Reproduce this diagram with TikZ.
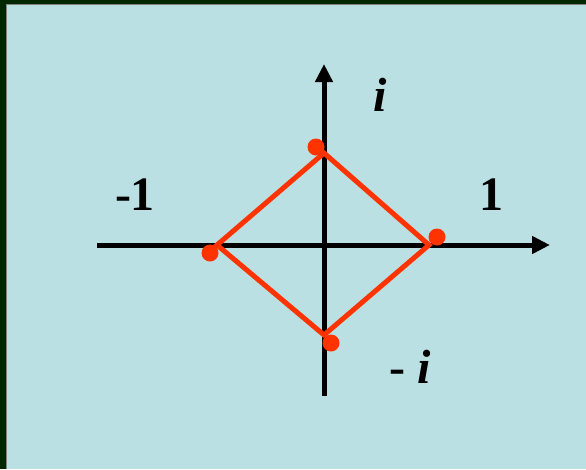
\documentclass[tikz,border=0pt]{standalone}
\usepackage{fontspec}
\setmainfont{Liberation Serif}
\usetikzlibrary{arrows.meta}
\definecolor{slidebg}{RGB}{187,224,227}
\definecolor{slideframe}{RGB}{0,38,0}
\definecolor{diamondred}{RGB}{255,51,0}

\begin{document}
\begin{tikzpicture}[x=1pt, y=-1pt]
        \tikzstyle{axisline} = [draw, line width=5pt, -{Triangle[length=18pt,width=17pt]}]
        \tikzstyle{side} = [draw, diamondred, line width=5pt, line join=miter]
        \tikzstyle{point} = [circle, fill=diamondred, inner sep=0pt, minimum size=17pt]
        \tikzstyle{axislabel} = [font=\fontsize{48}{48}\selectfont\bfseries, inner sep=0pt, anchor=base]

        % slide frame and background
        \fill[slideframe] (0,0) rectangle (586,469);
        \fill[gray] (6,4) rectangle (586,469);
        \fill[slidebg] (7,5) rectangle (586,469);
        \useasboundingbox (0,0) rectangle (586,469);

        \coordinate (west) at (97,245);
        \coordinate (east) at (550,245);
        \coordinate (south) at (324,396);
        \coordinate (north) at (324,64);
        \path [axisline] (west) -- (east);
        \path [axisline] (south) -- (north);

        \coordinate (top) at (324,153);
        \coordinate (right) at (429,245);
        \coordinate (bottom) at (324,335);
        \coordinate (left) at (217,245);
        \path [side] (top) -- (right) -- (bottom) -- (left) -- cycle;

        \node [point] (ptop) at (316,147) {};
        \node [point] (pright) at (437,237) {};
        \node [point] (pbottom) at (331,343) {};
        \node [point] (pleft) at (210,253) {};

        \node [axislabel] (im) at (380,111) {\textit{i}};
        \node [axislabel] (re) at (491,210) {1};
        \node [axislabel] (mre) at (135,210) {-1};
        \node [axislabel] (mim) at (410,383) {- \textit{i}};
    \end{tikzpicture}
\end{document}
